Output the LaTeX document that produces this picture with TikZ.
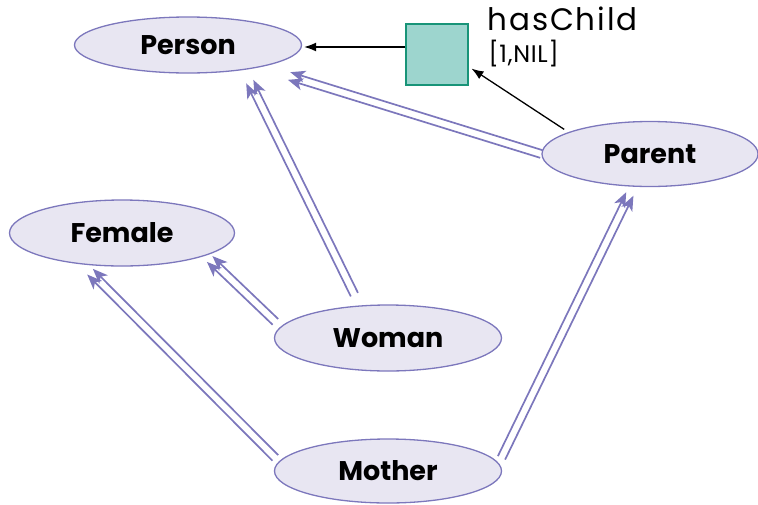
\documentclass[tikz,border=0pt]{standalone}
\usepackage{fontspec}
\setmainfont{Poppins}
\usepackage{tikz}
\usetikzlibrary{calc,shapes.geometric,arrows.meta,positioning}
\definecolor{classfill}{HTML}{E8E6F2}
\definecolor{classline}{HTML}{7C77BC}
\definecolor{relfill}{HTML}{9DD5CE}
\definecolor{relline}{HTML}{189478}
\tikzstyle{classbox} = [ellipse, draw=classline, fill=classfill, line width=1.3pt, inner sep=0pt, minimum width=227pt, minimum height=66pt, font=\fontsize{27}{30}\selectfont\bfseries]
\tikzstyle{relbox} = [rectangle, draw=relline, fill=relfill, line width=2pt, minimum width=62pt, minimum height=61pt]
\tikzstyle{isa} = [draw=classline, line width=1.7pt, -{Stealth[length=15pt,width=12pt,inset=4pt]}]
\tikzstyle{arrow} = [line width=1.3pt, -{Latex[length=12pt,width=9pt]}]
% two parallel subclass arrows
\newcommand{\isa}[3][]{%
\draw [isa,#1] ($(#2)!4pt!90:(#3)$) -- ($(#3)!4pt!-90:(#2)$);
\draw [isa,#1] ($(#2)!4pt!-90:(#3)$) -- ($(#3)!4pt!90:(#2)$);
}
\begin{document}
\begin{tikzpicture}[x=1pt,y=-1pt]
\useasboundingbox (0,0) rectangle (758,504);

\node (person) [classbox, minimum height=56pt] at (188,45) {Person};
\node (female) [classbox, minimum width=225pt] at (122,233) {Female};
\node (parent) [classbox, minimum width=216pt, minimum height=65pt] at (650,154) {Parent};
\node (woman) [classbox] at (388,338) {Woman};
\node (mother) [classbox, minimum height=64pt] at (388,471) {Mother};

\node (relation) [relbox] at (437,54) {};
\node (rolename) [anchor=base west, font=\fontsize{31}{34}\selectfont\addfontfeature{LetterSpace=6}] at (484,30) {hasChild};
\node (rolecard) [anchor=base west, font=\fontsize{24}{26}\selectfont\addfontfeature{LetterSpace=3}] at (485,62) {[1,NIL]};

\draw [arrow, shorten >=2pt] ([yshift=7pt]relation.west) -- ([yshift=-2pt]person.east);
\draw [arrow, shorten <=5pt, shorten >=3pt] (parent.165) -- (relation.-22);

\isa[shorten >=30pt]{parent.180}{person.-17}
\isa[shorten <=12pt, shorten >=13pt]{woman.131}{person.-24}
\isa[shorten <=7pt, shorten >=5pt]{woman.174}{female.-15}
\isa[shorten <=5pt, shorten >=10pt]{mother.175}{female.-141}
\isa[shorten <=6pt, shorten >=8pt]{mother.4}{parent.-117}

\end{tikzpicture}
\end{document}
